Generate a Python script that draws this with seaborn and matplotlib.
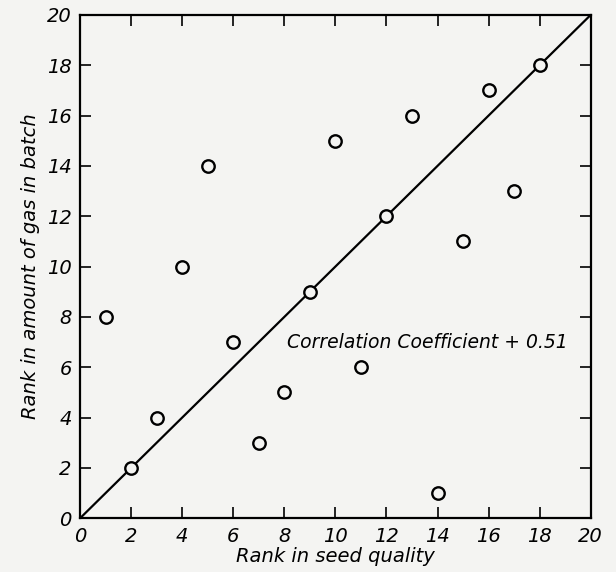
import matplotlib
matplotlib.use("Agg")
import matplotlib.pyplot as plt
import seaborn as sns
import pandas as pd

seed_rank = [1, 2, 3, 4, 5, 6, 7, 8, 9, 10, 11, 12, 13, 14, 15, 16, 17, 18]
gas_rank = [8, 2, 4, 10, 14, 7, 3, 5, 9, 15, 6, 12, 16, 1, 11, 17, 13, 18]
line_x = [0, 20]
line_y = [0, 20]
ticks = [0, 2, 4, 6, 8, 10, 12, 14, 16, 18, 20]
annotation = "Correlation Coefficient + 0.51"

sns.set_theme(style="ticks")
plt.rcParams["font.family"] = ["DejaVu Sans"]
plt.rcParams["text.color"] = "black"
plt.rcParams["axes.labelcolor"] = "black"

bg = "#f4f4f2"
fig = plt.figure(figsize=(6.16, 5.72), dpi=100, facecolor=bg)
ax = fig.add_axes([0.13, 0.094, 0.829, 0.88])
ax.set_facecolor(bg)

df = pd.DataFrame({"x": seed_rank, "y": gas_rank})
line_df = pd.DataFrame({"x": line_x, "y": line_y})
sns.lineplot(data=line_df, x="x", y="y", color="black", linewidth=1.6, ax=ax)
sns.scatterplot(data=df, x="x", y="y", marker="o", s=80, facecolor=bg,
                edgecolor="black", linewidth=1.7, ax=ax, zorder=3)

ax.set_xlim(0, 20)
ax.set_ylim(0, 20)
ax.set_xticks(ticks)
ax.set_yticks(ticks)
ax.set_xticklabels([str(t) for t in ticks], fontstyle="italic", fontsize=14)
ax.set_yticklabels([str(t) for t in ticks], fontstyle="italic", fontsize=14)
ax.tick_params(direction="in", length=8, width=1.2, top=True, right=True,
               labeltop=False, labelright=False, pad=6, colors="black")
for s in ax.spines.values():
    s.set_linewidth(1.6)
    s.set_color("black")

ax.set_xlabel("Rank in seed quality", fontstyle="italic", fontsize=14,
              labelpad=1, color="black")
ax.set_ylabel("Rank in amount of gas in batch", fontstyle="italic", fontsize=14,
              labelpad=5, color="black")
ax.text(8.1, 7.0, annotation, fontstyle="italic", fontsize=13.5,
        ha="left", va="center", color="black")

fig.savefig("out.png", dpi=100, facecolor=bg)
